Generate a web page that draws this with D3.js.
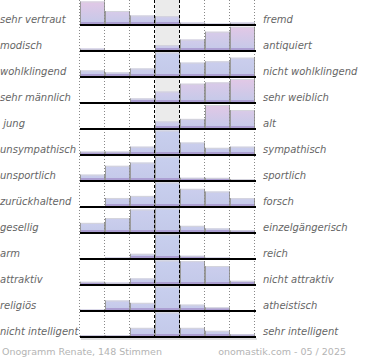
<!DOCTYPE html>
<html><head><meta charset="utf-8">
<script src="https://cdn.jsdelivr.net/npm/d3@7"></script>
<style>html,body{margin:0;padding:0;background:#fff;}svg{display:block;}</style>
</head><body>
<script>
const leftLabels = ["sehr vertraut","modisch","wohlklingend","sehr männlich"," jung","unsympathisch","unsportlich","zurückhaltend","gesellig","arm","attraktiv","religiös","nicht intelligent"];
const rightLabels = ["fremd","antiquiert","nicht wohlklingend","sehr weiblich","alt","sympathisch","sportlich","forsch","einzelgängerisch","reich","nicht attraktiv","atheistisch","sehr intelligent"];
const columns = [1,2,3,4,5,6,7];
// estimated vote shares per row (7 answer columns), clipped at row height
const votes = [
  [24, 14.3, 9.7, 9, 2.3, 1.3, 2.3],
  [2.3, 0, 0, 6, 11.7, 19.7, 24.7],
  [6.7, 4.7, 8.7, 25, 14.7, 16, 19.7],
  [0, 0, 4.7, 11.7, 19.7, 21, 24.5],
  [0, 0, 0, 7.7, 10.3, 24.5, 19.3],
  [3.5, 3.5, 8.5, 25, 12.7, 7.3, 8.5],
  [6.5, 15.5, 18.8, 25, 3.3, 3.2, 2],
  [0, 9.2, 11.3, 25, 18.5, 15.8, 9],
  [10.3, 15.3, 24, 25, 7.3, 4.7, 2.7],
  [0, 1.3, 5.3, 25, 3.3, 1.3, 0],
  [3.3, 2.3, 6.7, 25, 24.3, 19.3, 4.3],
  [1.3, 10.7, 8.3, 25, 6.5, 3.7, 0],
  [1.7, 1.7, 9.3, 25, 9.3, 6.3, 2.7]
];
// estimated pink tint of each bar's top
const tints = [
  [1, 0.6, 0.35, 0.3, 0.2, 0, 0.2],
  [0.2, 0, 0, 0.3, 0.4, 0.6, 1],
  [0.2, 0.1, 0.2, 0, 0.1, 0.1, 0.1],
  [0, 0, 0.3, 0.4, 0.7, 0.7, 1],
  [0, 0, 0, 0.3, 0.3, 1, 0.7],
  [0.1, 0.1, 0.1, 0, 0.1, 0.1, 0.1],
  [0.1, 0.1, 0.1, 0, 0.1, 0.1, 0.1],
  [0, 0.1, 0.1, 0, 0.1, 0.1, 0.1],
  [0.1, 0.1, 0.1, 0, 0.1, 0.1, 0.1],
  [0, 0.1, 0.1, 0, 0.1, 0.1, 0],
  [0.1, 0.1, 0.1, 0, 0.1, 0.1, 0.1],
  [0.1, 0.1, 0.1, 0, 0.1, 0.1, 0],
  [0.1, 0.1, 0.1, 0, 0.1, 0.1, 0.1]
];
const footerLeft = "Onogramm Renate, 148 Stimmen";
const footerRight = "onomastik.com - 05 / 2025";

const W = 370, H = 360;
const svg = d3.select("body").append("svg").attr("width", W).attr("height", H);
const defs = svg.append("defs");

const x = d3.scaleBand().domain(columns).range([80, 255]).padding(0);
const rowY = d3.scaleBand().domain(d3.range(leftLabels.length)).range([-1, 337]).padding(0);
const h = d3.scaleLinear().domain([0, 25]).range([0, 24.5]).clamp(true);
const base = i => rowY(i) + rowY.bandwidth();

const blue = "#c3c9e9", pink = "#e2c8e6";
const tintColor = d3.interpolateRgb("#c8cfee", pink);

// center column background
svg.append("rect").attr("x", x(4)).attr("y", 0).attr("width", x.bandwidth())
  .attr("height", base(leftLabels.length - 1)).attr("fill", "#ebebeb");

// bars
const rows = svg.selectAll("g.row").data(votes).join("g").attr("class", "row");
rows.each(function(rowVals, i) {
  const g = d3.select(this);
  rowVals.forEach((v, j) => {
    const bh = h(v);
    if (bh <= 0) return;
    const bx = x(columns[j]), bw = x.bandwidth(), by = base(i) - bh;
    const id = "gr" + i + "_" + j;
    const gr = defs.append("linearGradient").attr("id", id)
      .attr("x1", 0).attr("y1", 0).attr("x2", 0).attr("y2", 1);
    gr.append("stop").attr("offset", "0%").attr("stop-color", tintColor(tints[i][j]));
    gr.append("stop").attr("offset", "100%").attr("stop-color", blue);
    g.append("rect").attr("x", bx).attr("y", by).attr("width", bw).attr("height", bh)
      .attr("fill", "url(#" + id + ")");
    const sh = Math.min(3, bh);
    g.append("rect").attr("x", bx).attr("y", base(i) - sh).attr("width", bw).attr("height", sh)
      .attr("fill", "#ac9fd2");
    // top edge
    g.append("line").attr("x1", bx).attr("x2", bx + bw).attr("y1", by + 0.5).attr("y2", by + 0.5)
      .attr("stroke", "#d4d4dc").attr("stroke-width", 1);
    // side edges
    g.append("path").attr("d", `M${bx + 0.5},${base(i)}V${by}M${bx + bw - 0.5},${by}V${base(i)}`)
      .attr("stroke", "#9a9a9a").attr("stroke-width", 1).attr("fill", "none");
  });
});

// vertical grid lines
const gridX = [80, 105, 130, 155, 180, 205, 230, 255].map((d, k) => k === 7 ? x.range()[1] : x(columns[k]));
const bottom = base(leftLabels.length - 1);
svg.selectAll("line.grid").data(gridX).join("line").attr("class", "grid")
  .attr("x1", d => d - 0.5).attr("x2", d => d - 0.5).attr("y1", 0).attr("y2", bottom)
  .attr("stroke", (d, k) => (k === 3 || k === 4) ? "#000" : "#888")
  .attr("stroke-width", 1)
  .attr("stroke-dasharray", (d, k) => (k === 3 || k === 4) ? "3,2" : "1,2");

// baselines
svg.selectAll("line.base").data(votes).join("line").attr("class", "base")
  .attr("x1", 80).attr("x2", 256).attr("y1", (d, i) => base(i)).attr("y2", (d, i) => base(i))
  .attr("stroke", "#000").attr("stroke-width", 2);
svg.append("line").attr("x1", 81).attr("x2", 257).attr("y1", bottom + 2).attr("y2", bottom + 2)
  .attr("stroke", "#999").attr("stroke-width", 1).attr("opacity", 0.6);

// labels
const lab = { "font-family": "DejaVu Sans", "font-size": "10px", "font-style": "italic", fill: "#666" };
function style(sel, o) { Object.entries(o).forEach(([k, v]) => sel.attr(k, v)); return sel; }
style(svg.selectAll("text.left").data(leftLabels).join("text").attr("class", "left")
  .attr("x", 0).attr("y", (d, i) => base(i) - 2).attr("xml:space", "preserve")
  .style("white-space", "pre").text(d => d), lab);
style(svg.selectAll("text.right").data(rightLabels).join("text").attr("class", "right")
  .attr("x", 263).attr("y", (d, i) => base(i) - 2).text(d => d), lab);

// footer
const ft = { "font-family": "DejaVu Sans", "font-size": "9.5px", fill: "#b4b4b4" };
style(svg.append("text").attr("x", 2).attr("y", 355).text(footerLeft), ft);
style(svg.append("text").attr("x", 346).attr("y", 355).attr("text-anchor", "end").text(footerRight), ft);
</script>
</body></html>
